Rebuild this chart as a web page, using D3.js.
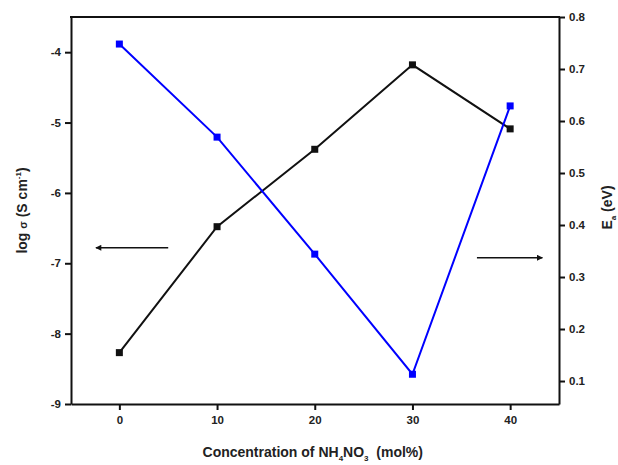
<!DOCTYPE html>
<html>
<head>
<meta charset="utf-8">
<script src="https://cdn.jsdelivr.net/npm/d3@7"></script>
<style>
  body { margin: 0; background: #fff; }
  text { font-family: "Liberation Sans", Arial, sans-serif; font-weight: bold; }
</style>
</head>
<body>
<div id="chart"></div>
<script>
// data
var concentration = [0, 10, 20, 30, 40]
var logSigma = [-8.27, -6.48, -5.38, -4.18, -5.09]
var activationEnergy = [0.748, 0.569, 0.344, 0.113, 0.629]

var xTicks = [0, 10, 20, 30, 40]
var leftTicks = [-9, -8, -7, -6, -5, -4]
var rightTicks = [0.1, 0.2, 0.3, 0.4, 0.5, 0.6, 0.7, 0.8]

// arrows pointing to each axis, in data units
var leftArrow = { from: 5, to: -2.4, y: -6.78 }
var rightArrow = { from: 36.6, to: 43.3, y: 0.337 }

const svgWidth = 618
const svgHeight = 465
const margin = { top: 17, right: 59, bottom: 61, left: 71 }
const graphWidth = svgWidth - margin.left - margin.right
const graphHeight = svgHeight - margin.top - margin.bottom

var svg = d3.select('#chart').append('svg')
  .attr('width', svgWidth)
  .attr('height', svgHeight)

var graph = svg.append('g')
  .attr('transform', `translate(${margin.left}, ${margin.top})`)

const x = d3.scaleLinear().domain([-4.95, 45]).range([0, graphWidth])
const yLeft = d3.scaleLinear().domain([-9, -3.5]).range([graphHeight, 0])
const yRight = d3.scaleLinear().domain([0.0558, 0.8]).range([graphHeight, 0])

// axes
function styleAxis(g) {
  g.select('.domain').attr('stroke', '#111').attr('stroke-width', 2)
  g.selectAll('.tick line').attr('stroke', '#111').attr('stroke-width', 2)
  g.selectAll('.tick text').attr('fill', '#222').style('font-size', '11.5px')
}

graph.append('g')
  .attr('transform', `translate(0, ${graphHeight})`)
  .call(d3.axisBottom(x).tickValues(xTicks).tickSize(6).tickSizeOuter(0).tickPadding(6))
  .call(styleAxis)

graph.append('g')
  .call(d3.axisLeft(yLeft).tickValues(leftTicks).tickSize(6).tickSizeOuter(0).tickPadding(4)
    .tickFormat(d => String(d)))
  .call(styleAxis)

graph.append('g')
  .attr('transform', `translate(${graphWidth}, 0)`)
  .call(d3.axisRight(yRight).tickValues(rightTicks).tickSize(6).tickSizeOuter(0).tickPadding(4)
    .tickFormat(d => d.toFixed(1)))
  .call(styleAxis)

// top frame line
graph.append('line')
  .attr('x1', -1).attr('x2', graphWidth + 1)
  .attr('y1', 0).attr('y2', 0)
  .attr('stroke', '#111').attr('stroke-width', 2)

// series
function drawSeries(values, y, colour) {
  var pts = concentration.map((c, i) => [x(c), y(values[i])])
  graph.append('path')
    .datum(pts)
    .attr('d', d3.line())
    .attr('fill', 'none')
    .attr('stroke', colour)
    .attr('stroke-width', 2)
  graph.selectAll(null)
    .data(pts)
    .enter()
    .append('rect')
    .attr('x', d => d[0] - 3.5)
    .attr('y', d => d[1] - 3.5)
    .attr('width', 7)
    .attr('height', 7)
    .attr('fill', colour)
}

drawSeries(logSigma, yLeft, '#111')
drawSeries(activationEnergy, yRight, '#0000ff')

// arrows
svg.append('defs').append('marker')
  .attr('id', 'head')
  .attr('viewBox', '0 0 10 10')
  .attr('refX', 9).attr('refY', 5)
  .attr('markerWidth', 10).attr('markerHeight', 6)
  .attr('markerUnits', 'userSpaceOnUse')
  .attr('orient', 'auto')
  .append('path')
  .attr('d', 'M0,0 L10,5 L0,10 z')
  .attr('fill', '#111')

graph.append('line')
  .attr('x1', x(leftArrow.from)).attr('x2', x(leftArrow.to))
  .attr('y1', yLeft(leftArrow.y)).attr('y2', yLeft(leftArrow.y))
  .attr('stroke', '#111').attr('stroke-width', 1.4)
  .attr('marker-end', 'url(#head)')

graph.append('line')
  .attr('x1', x(rightArrow.from)).attr('x2', x(rightArrow.to))
  .attr('y1', yRight(rightArrow.y)).attr('y2', yRight(rightArrow.y))
  .attr('stroke', '#111').attr('stroke-width', 1.4)
  .attr('marker-end', 'url(#head)')

// axis titles
var xTitle = svg.append('text')
  .attr('x', margin.left + x(20) - 2)
  .attr('y', 457)
  .attr('text-anchor', 'middle')
  .style('font-size', '14px')
  .attr('fill', '#222')
xTitle.append('tspan').text('Concentration of NH')
xTitle.append('tspan').attr('dy', 4).style('font-size', '8px').text('4')
xTitle.append('tspan').attr('dy', -4).text('NO')
xTitle.append('tspan').attr('dy', 4).style('font-size', '8px').text('3')
xTitle.append('tspan').attr('dy', -4).text('\u00a0 (mol%)')

var yTitle = svg.append('text')
  .attr('transform', `translate(27, ${margin.top + graphHeight / 2}) rotate(-90)`)
  .attr('text-anchor', 'middle')
  .style('font-size', '14px')
  .attr('fill', '#222')
yTitle.append('tspan').text('log ')
yTitle.append('tspan').style('font-size', '11px').text('σ')
yTitle.append('tspan').text(' (S cm')
yTitle.append('tspan').attr('dy', -6).style('font-size', '8px').text('-1')
yTitle.append('tspan').attr('dy', 6).text(')')

var rTitle = svg.append('text')
  .attr('transform', `translate(612, ${margin.top + graphHeight / 2 - 3}) rotate(-90)`)
  .attr('text-anchor', 'middle')
  .style('font-size', '14px')
  .attr('fill', '#222')
rTitle.append('tspan').text('E')
rTitle.append('tspan').attr('dy', 4).style('font-size', '8px').text('a')
rTitle.append('tspan').attr('dy', -4).text(' (eV)')
</script>
</body>
</html>
